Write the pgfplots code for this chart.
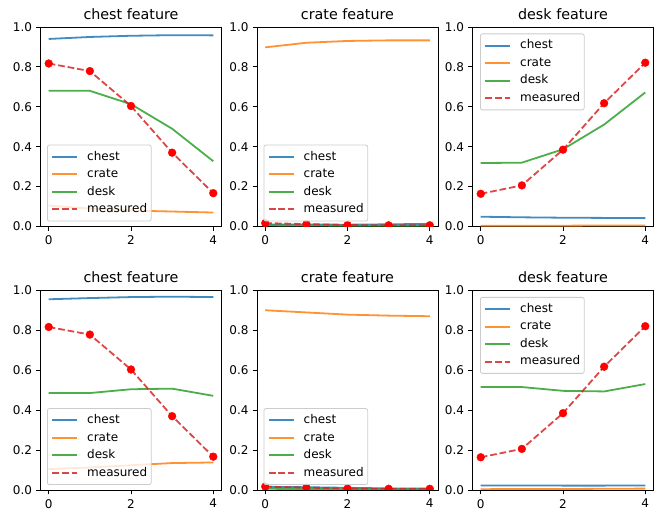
\documentclass[border=0pt]{standalone}
\usepackage{fontspec}
\setmainfont{DejaVu Sans}
\usepackage{pgfplots}
\usepackage{pgfplotstable}
\pgfplotsset{compat=1.18}
\definecolor{c0}{HTML}{1F77B4}
\definecolor{c1}{HTML}{FF7F0E}
\definecolor{c2}{HTML}{2CA02C}
\definecolor{c3}{HTML}{D62728}

\pgfplotstableread{
x chest crate desk meas
0 0.940 0.105 0.680 0.817
1 0.950 0.090 0.680 0.779
2 0.956 0.080 0.613 0.604
3 0.959 0.075 0.490 0.370
4 0.958 0.070 0.327 0.167
}\tabA
\pgfplotstableread{
x chest crate desk meas
0 0.010 0.898 0.006 0.017
1 0.010 0.921 0.005 0.012
2 0.009 0.930 0.004 0.007
3 0.011 0.933 0.004 0.006
4 0.013 0.933 0.004 0.006
}\tabB
\pgfplotstableread{
x chest crate desk meas
0 0.049 0.004 0.318 0.164
1 0.046 0.004 0.320 0.206
2 0.044 0.004 0.387 0.385
3 0.043 0.005 0.511 0.618
4 0.042 0.005 0.672 0.821
}\tabC
\pgfplotstableread{
x chest crate desk meas
0 0.956 0.105 0.486 0.817
1 0.962 0.113 0.486 0.779
2 0.967 0.124 0.505 0.604
3 0.969 0.135 0.508 0.370
4 0.967 0.138 0.472 0.167
}\tabD
\pgfplotstableread{
x chest crate desk meas
0 0.016 0.901 0.006 0.017
1 0.014 0.890 0.005 0.012
2 0.011 0.879 0.004 0.007
3 0.008 0.874 0.004 0.006
4 0.007 0.871 0.004 0.006
}\tabE
\pgfplotstableread{
x chest crate desk meas
0 0.023 0.004 0.516 0.164
1 0.023 0.005 0.516 0.206
2 0.022 0.005 0.497 0.385
3 0.022 0.006 0.494 0.618
4 0.023 0.007 0.531 0.821
}\tabF

\pgfplotsset{
  panel/.style={
    scale only axis, width=181pt, height=199.5pt, anchor=south west,
    xmin=-0.2, xmax=4.2, ymin=0, ymax=1,
    xtick={0,2,4}, ytick={0,0.2,0.4,0.6,0.8,1.0},
    /pgf/number format/assume math mode=true,
    tick label style={font=\fontsize{12}{14}\selectfont, inner sep=0pt},
    yticklabel style={xshift=-3.8pt, /pgf/number format/.cd, fixed, fixed zerofill, precision=1},
    xticklabel style={yshift=-4.5pt},
    tick align=outside, tick pos=left, major tick length=4.5pt,
    every tick/.style={black, line width=0.9pt},
    axis line style={line width=0.9pt},
    title style={at={(0.5,1)}, anchor=base, yshift=1.5pt, inner sep=0pt, font=\fontsize{14.3}{17}\selectfont},
    clip marker paths=true,
    legend cell align=left,
    legend image code/.code={\draw[##1] (0pt,0pt) -- (25pt,0pt);},
    legend style={font=\fontsize{12}{14}\selectfont, draw=black!20, line width=0.8pt,
      rounded corners=2pt, fill=white, fill opacity=0.8, text opacity=1,
      inner xsep=4pt, inner ysep=3pt, column sep=9pt, row sep=0pt,
      nodes={inner xsep=0pt, inner ysep=2.5pt, text height=9.5pt, text depth=3pt}},
  },
  lw/.style={line width=1.8pt, draw opacity=0.85},
}

\newcommand{\panel}[5]{%
\begin{axis}[panel, at={(#1,#2)}, title={#3}, legend style={#5}]
\addplot[c0, lw] table[x=x,y=chest]{#4};
\addlegendentry{chest}
\addplot[c1, lw] table[x=x,y=crate]{#4};
\addlegendentry{crate}
\addplot[c2, lw] table[x=x,y=desk]{#4};
\addlegendentry{desk}
\addplot[c3, lw, dash pattern=on 6.7pt off 2.9pt] table[x=x,y=meas]{#4};
\addlegendentry{measured}
\addplot[only marks, mark=*, mark size=3.9pt, color=red, forget plot] table[x=x,y=meas]{#4};
\end{axis}}

\begin{document}
\begin{tikzpicture}
\path (0,0) rectangle (661pt,510pt);
\def\lowleg{at={(0,0)}, anchor=south west, xshift=6.5pt, yshift=5pt}
\def\upleg{at={(0,1)}, anchor=north west, xshift=7.5pt, yshift=-6.5pt}
\panel{40.5pt}{283.5pt}{chest feature}{\tabA}{\lowleg}
\panel{257pt}{283.5pt}{crate feature}{\tabB}{\lowleg}
\panel{472.5pt}{283.5pt}{desk feature}{\tabC}{\upleg}
\panel{40.5pt}{20pt}{chest feature}{\tabD}{\lowleg}
\panel{257pt}{20pt}{crate feature}{\tabE}{\lowleg}
\panel{472.5pt}{20pt}{desk feature}{\tabF}{\upleg}
\end{tikzpicture}
\end{document}
